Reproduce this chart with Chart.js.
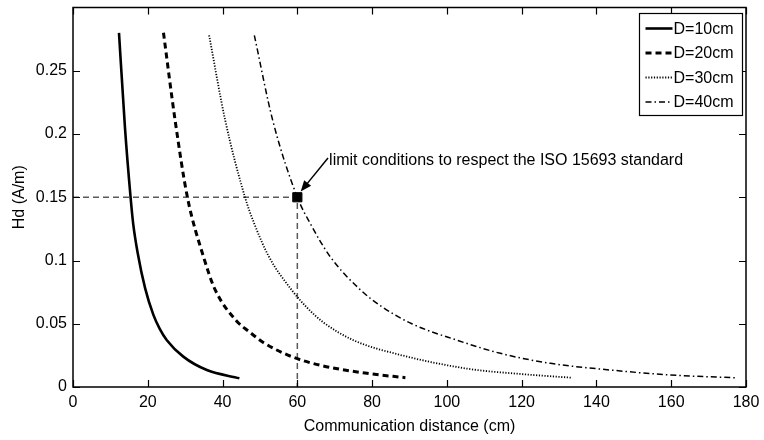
<!DOCTYPE html>
<html lang="en">
<head>
  <meta charset="UTF-8">
  <title>Hd vs communication distance</title>
  <script src="https://cdn.jsdelivr.net/npm/chart.js"></script>
  <style>
    body { margin: 0; background: white; }
    #wrap { width: 764px; height: 440px; }
  </style>
</head>
<body>
<div id="wrap"><canvas id="chart" width="764" height="440"></canvas></div>

<script>
// values
const d10X = [12.3, 13.9, 15.4, 16.1, 17.3, 19.3, 21.5, 23.2, 25.1, 29.5, 35.8, 44.5];
const d10Y = [0.280, 0.205, 0.150, 0.129, 0.106, 0.078, 0.057, 0.046, 0.037, 0.024, 0.0134, 0.0069];
const d20X = [24.2, 27.3, 30.6, 34.9, 38.0, 43.8, 47.0, 51.0, 58.5, 66.1, 78.6, 88.9];
const d20Y = [0.280, 0.211, 0.150, 0.103, 0.077, 0.052, 0.044, 0.035, 0.024, 0.0172, 0.0108, 0.0074];
const d30X = [36.4, 40.7, 46.0, 48.5, 52.4, 58.4, 62.5, 67.0, 75.0, 86.7, 105.4, 118.8, 133.5];
const d30Y = [0.278, 0.211, 0.150, 0.129, 0.103, 0.077, 0.063, 0.051, 0.037, 0.026, 0.0145, 0.0105, 0.0073];
const d40X = [48.5, 53.4, 60.0, 63.5, 68.8, 76.8, 82.6, 90.6, 102.7, 114.3, 127.7, 143.8, 159.8, 177.7];
const d40Y = [0.278, 0.211, 0.150, 0.129, 0.103, 0.077, 0.0635, 0.050, 0.037, 0.0266, 0.0187, 0.0134, 0.0095, 0.0072];

const seriesLabels = ["D=10cm", "D=20cm", "D=30cm", "D=40cm"];
const refX = [0, 60, 60];
const refY = [0.15, 0.15, 0];
const markX = [60];
const markY = [0.15];
const xTicks = [0, 20, 40, 60, 80, 100, 120, 140, 160, 180];
const yTicks = [0, 0.05, 0.1, 0.15, 0.2, 0.25];
const noteText = "limit conditions to respect the ISO 15693 standard";
const noteAt = [68.5, 0.1755];       // text start (data units)
const arrowFrom = [68.2, 0.181];
const arrowTo = [60.9, 0.1545];

const FONT = "'Liberation Sans', Arial, sans-serif";
const pts = (xs, ys) => xs.map((x, i) => ({x: x, y: ys[i]}));

const styles = [
  {width: 2.6, dash: []},
  {width: 3, dash: [6, 4]},
  {width: 1.8, dash: [1.2, 1.6]},
  {width: 1.5, dash: [6, 3, 1.5, 3]}
];

// box + inward ticks on all four sides
const framePlugin = {
  id: "frame",
  afterDraw(chart) {
    const {ctx, chartArea: a, scales} = chart;
    ctx.save();
    ctx.strokeStyle = "#000";
    ctx.lineWidth = 1.5;
    ctx.setLineDash([]);
    ctx.strokeRect(a.left, a.top, a.right - a.left, a.bottom - a.top);
    ctx.lineWidth = 1.2;
    ctx.beginPath();
    xTicks.forEach(v => {
      const px = Math.round(scales.x.getPixelForValue(v)) + 0.5;
      ctx.moveTo(px, a.bottom); ctx.lineTo(px, a.bottom - 7);
      ctx.moveTo(px, a.top); ctx.lineTo(px, a.top + 7);
    });
    yTicks.forEach(v => {
      const py = Math.round(scales.y.getPixelForValue(v)) + 0.5;
      ctx.moveTo(a.left, py); ctx.lineTo(a.left + 7, py);
      ctx.moveTo(a.right, py); ctx.lineTo(a.right - 7, py);
    });
    ctx.stroke();
    ctx.restore();
  }
};

// arrow + note text
const notePlugin = {
  id: "note",
  afterDatasetsDraw(chart) {
    const {ctx, scales} = chart;
    const x0 = scales.x.getPixelForValue(arrowFrom[0]), y0 = scales.y.getPixelForValue(arrowFrom[1]);
    const x1 = scales.x.getPixelForValue(arrowTo[0]), y1 = scales.y.getPixelForValue(arrowTo[1]);
    const ang = Math.atan2(y1 - y0, x1 - x0);
    ctx.save();
    ctx.strokeStyle = "#000";
    ctx.fillStyle = "#000";
    ctx.lineWidth = 1.5;
    ctx.setLineDash([]);
    ctx.beginPath();
    ctx.moveTo(x0, y0);
    ctx.lineTo(x1 - 8 * Math.cos(ang), y1 - 8 * Math.sin(ang));
    ctx.stroke();
    ctx.beginPath();
    ctx.moveTo(x1, y1);
    ctx.lineTo(x1 - 11 * Math.cos(ang) + 4.5 * Math.sin(ang), y1 - 11 * Math.sin(ang) - 4.5 * Math.cos(ang));
    ctx.lineTo(x1 - 11 * Math.cos(ang) - 4.5 * Math.sin(ang), y1 - 11 * Math.sin(ang) + 4.5 * Math.cos(ang));
    ctx.closePath();
    ctx.fill();
    ctx.font = "16px " + FONT;
    ctx.textBaseline = "alphabetic";
    ctx.textAlign = "left";
    ctx.fillText(noteText, scales.x.getPixelForValue(noteAt[0]), scales.y.getPixelForValue(noteAt[1]));
    ctx.restore();
  }
};

// legend box in the top right corner
const legendPlugin = {
  id: "boxLegend",
  afterDraw(chart) {
    const {ctx, chartArea: a} = chart;
    const bx = a.right - 106.5, by = a.top + 6, bw = 103, bh = 102;
    ctx.save();
    ctx.fillStyle = "#fff";
    ctx.fillRect(bx, by, bw, bh);
    ctx.strokeStyle = "#000";
    ctx.lineWidth = 1.2;
    ctx.strokeRect(bx, by, bw, bh);
    ctx.font = "16px " + FONT;
    ctx.textBaseline = "middle";
    ctx.fillStyle = "#000";
    seriesLabels.forEach((lab, i) => {
      const y = by + 15 + i * 24.5;
      ctx.lineWidth = styles[i].width;
      ctx.setLineDash(styles[i].dash);
      ctx.beginPath();
      ctx.moveTo(bx + 6, y);
      ctx.lineTo(bx + 33, y);
      ctx.stroke();
      ctx.setLineDash([]);
      ctx.fillText(lab, bx + 34, y + 1);
    });
    ctx.restore();
  }
};

const curveSets = [[d10X, d10Y], [d20X, d20Y], [d30X, d30Y], [d40X, d40Y]].map((s, i) => ({
  label: seriesLabels[i],
  data: pts(s[0], s[1]),
  borderColor: "#000",
  borderWidth: styles[i].width,
  borderDash: styles[i].dash,
  pointRadius: 0,
  fill: false,
  cubicInterpolationMode: "monotone"
}));

new Chart(document.getElementById("chart"), {
  type: "line",
  data: {
    datasets: [
      ...curveSets,
      {
        label: "limit",
        data: pts(refX, refY),
        borderColor: "#5a5a5a",
        borderWidth: 1.5,
        borderDash: [6, 4],
        pointRadius: 0,
        tension: 0,
        order: 5
      },
      {
        label: "point",
        data: pts(markX, markY),
        showLine: false,
        pointStyle: "rect",
        pointRadius: 6.5,
        backgroundColor: "#000",
        borderColor: "#000",
        order: 4
      }
    ]
  },
  options: {
    responsive: false,
    animation: false,
    layout: { padding: { top: 7, right: 18, left: 0, bottom: 0 } },
    plugins: { legend: { display: false }, tooltip: { enabled: false } },
    scales: {
      x: {
        type: "linear", min: 0, max: 180,
        afterBuildTicks: s => { s.ticks = xTicks.map(v => ({value: v})); },
        afterFit: s => { s.height = 53; s.paddingLeft = 0; s.paddingRight = 0; },
        grid: { drawOnChartArea: false, drawTicks: false },
        border: { display: false },
        ticks: { color: "#000", font: { family: FONT, size: 16 }, padding: 6, maxRotation: 0 },
        title: { display: true, text: "Communication distance (cm)", color: "#000",
          font: { family: FONT, size: 16 }, padding: { top: 0, bottom: 4 } }
      },
      y: {
        type: "linear", min: 0, max: 0.3,
        afterBuildTicks: s => { s.ticks = yTicks.map(v => ({value: v})); },
        afterFit: s => { s.width = 73; s.paddingTop = 0; s.paddingBottom = 0; },
        grid: { drawOnChartArea: false, drawTicks: false },
        border: { display: false },
        ticks: { color: "#000", font: { family: FONT, size: 16 }, padding: 6,
          callback: v => String(Number(v.toFixed(2))) },
        title: { display: true, text: "Hd (A/m)", color: "#000",
          font: { family: FONT, size: 16 }, padding: { top: 10, bottom: 0 } }
      }
    }
  },
  plugins: [framePlugin, notePlugin, legendPlugin]
});
</script>
</body>
</html>
